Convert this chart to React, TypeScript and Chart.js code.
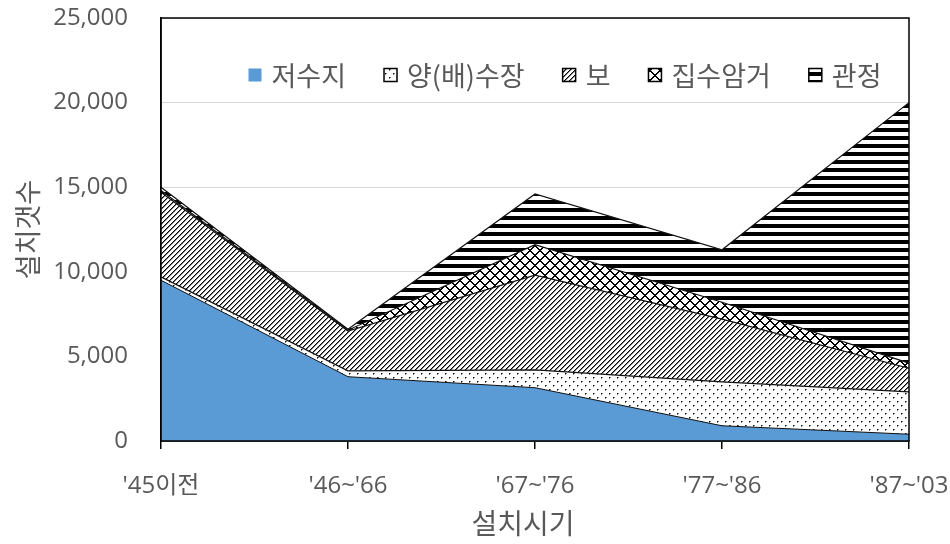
import React, { useEffect, useRef } from 'react';
import { Chart, registerables } from 'chart.js';

Chart.register(...registerables);

const FONT = '"Open Sans", "Noto Sans CJK KR", sans-serif';
const KFONT = '"Noto Sans CJK KR", "Noto Sans", sans-serif';
const TEXT_COLOR = '#595959';

const categories = ["'45이전", "'46~'66", "'67~'76", "'77~'86", "'87~'03"];
const seriesNames = ['저수지', '양(배)수장', '보', '집수암거', '관정'];

const reservoir = [9500, 3800, 3150, 900, 400];
const pumpStation = [200, 350, 1050, 2600, 2500];
const weir = [5000, 2350, 5600, 3700, 1400];
const infiltration = [100, 50, 1800, 1000, 300];
const tubeWell = [200, 50, 3000, 3100, 15400];

const yMax = 25000;
const yStep = 5000;
const xTitle = '설치시기';
const yTitle = '설치갯수';

function tile(w: number, h: number, draw: (c: CanvasRenderingContext2D) => void) {
  const cv = document.createElement('canvas');
  cv.width = w;
  cv.height = h;
  const c = cv.getContext('2d')!;
  c.fillStyle = '#ffffff';
  c.fillRect(0, 0, w, h);
  draw(c);
  return c.createPattern(cv, 'repeat')!;
}

function makePatterns() {
  const dots = tile(8, 8, (c) => {
    c.fillStyle = '#111';
    c.fillRect(1, 1, 1, 1);
    c.fillRect(5, 5, 1, 1);
    c.fillStyle = '#777';
    c.fillRect(2, 1, 1, 1);
    c.fillRect(6, 5, 1, 1);
    c.fillRect(1, 2, 1, 1);
    c.fillRect(5, 6, 1, 1);
  });
  const diag = tile(5, 5, (c) => {
    for (let i = 0; i < 5; i++) {
      c.fillStyle = '#000';
      c.fillRect(i, 4 - i, 1, 1);
      c.fillStyle = '#777';
      c.fillRect(i, (5 - i) % 5, 1, 1);
    }
  });
  const cross = tile(10, 10, (c) => {
    c.fillStyle = '#000';
    for (let i = 0; i < 10; i++) {
      c.fillRect(i, i, 1, 1);
      c.fillRect(i, (i + 1) % 10, 1, 1);
      c.fillRect(i, 9 - i, 1, 1);
      c.fillRect(i, (10 - i) % 10, 1, 1);
    }
  });
  const stripes = tile(8, 8, (c) => {
    c.fillStyle = '#000';
    c.fillRect(0, 0, 8, 4);
  });
  return { dots, diag, cross, stripes };
}

const framePlugin = {
  id: 'frameAndLegend',
  afterDraw(chart: any) {
    const { ctx, chartArea: a } = chart;
    ctx.save();
    ctx.strokeStyle = '#000';
    ctx.lineWidth = 1.5;
    ctx.strokeRect(a.left, a.top, a.right - a.left, a.bottom - a.top);

    // x axis title
    ctx.font = `28px ${KFONT}`;
    ctx.fillStyle = TEXT_COLOR;
    ctx.textAlign = 'center';
    ctx.textBaseline = 'middle';
    ctx.fillText(xTitle, (a.left + a.right) / 2 - 12, 523);

    // legend inside the plot area
    const size = 27;
    ctx.font = `${size}px ${KFONT}`;
    const box = 13;
    const gapBT = 10;
    const gapItem = 38;
    const ds = chart.data.datasets;
    const widths = ds.map((d: any) => box + gapBT + ctx.measureText(d.label).width);
    const total = widths.reduce((s: number, w: number) => s + w, 0) + gapItem * (widths.length - 1);
    const cx = a.left + 404;
    const cy = a.top + 57;
    let x = cx - total / 2;
    ds.forEach((d: any, i: number) => {
      ctx.fillStyle = d.backgroundColor;
      ctx.fillRect(x, cy - box / 2, box, box);
      if (i > 0) {
        ctx.strokeStyle = '#000';
        ctx.lineWidth = 1.5;
        ctx.strokeRect(x, cy - box / 2, box, box);
      }
      ctx.fillStyle = TEXT_COLOR;
      ctx.textBaseline = 'middle';
      ctx.textAlign = 'left';
      ctx.fillText(d.label, x + box + gapBT, cy + 1);
      x += widths[i] + gapItem;
    });
    ctx.restore();
  },
};

export default function App() {
  const ref = useRef<HTMLCanvasElement | null>(null);

  useEffect(() => {
    document.body.style.margin = '0';
    const p = makePatterns();
    const values = [reservoir, pumpStation, weir, infiltration, tubeWell];
    const fills = ['#5B9BD5', p.dots, p.diag, p.cross, p.stripes];
    const datasets = values.map((v, i) => ({
      label: seriesNames[i],
      data: v,
      backgroundColor: fills[i] as any,
      borderColor: '#111',
      borderWidth: i === 0 ? 1 : 1.2,
      pointRadius: 0,
      tension: 0,
      fill: i === 0 ? 'origin' : '-1',
    }));

    const chart = new Chart(ref.current!, {
      type: 'line',
      data: { labels: categories, datasets },
      options: {
        animation: false,
        responsive: false,
        locale: 'en-US',
        layout: { padding: { top: 18, right: 41, left: 0, bottom: 0 } },
        plugins: {
          legend: { display: false },
          tooltip: { enabled: false },
        },
        scales: {
          x: {
            type: 'category',
            offset: false,
            grid: { display: true, drawOnChartArea: false, drawTicks: true, tickLength: 8, color: '#000', lineWidth: 1.5 },
            border: { display: true, color: '#000', width: 1.5 },
            ticks: { color: TEXT_COLOR, font: { family: FONT, size: 24 }, padding: 23, maxRotation: 0, autoSkip: false },
            title: { display: false, text: xTitle },
            afterFit: (s: any) => {
              s.height = 103;
              s.paddingLeft = 0;
              s.paddingRight = 0;
            },
          },
          y: {
            stacked: true,
            min: 0,
            max: yMax,
            ticks: { stepSize: yStep, color: TEXT_COLOR, font: { family: FONT, size: 24 }, padding: 33 },
            grid: { color: '#d9d9d9', drawTicks: false, lineWidth: 1 },
            border: { display: true, color: '#000', width: 1.5 },
            title: { display: true, text: yTitle, color: TEXT_COLOR, font: { family: KFONT, size: 27 }, padding: { top: 12, bottom: 0 } },
            afterFit: (s: any) => {
              s.width = 161;
              s.paddingTop = 0;
              s.paddingBottom = 0;
            },
          },
        },
      },
      plugins: [framePlugin],
    } as any);
    return () => chart.destroy();
  }, []);

  return <canvas ref={ref} width={950} height={544} style={{ display: 'block' }} />;
}
